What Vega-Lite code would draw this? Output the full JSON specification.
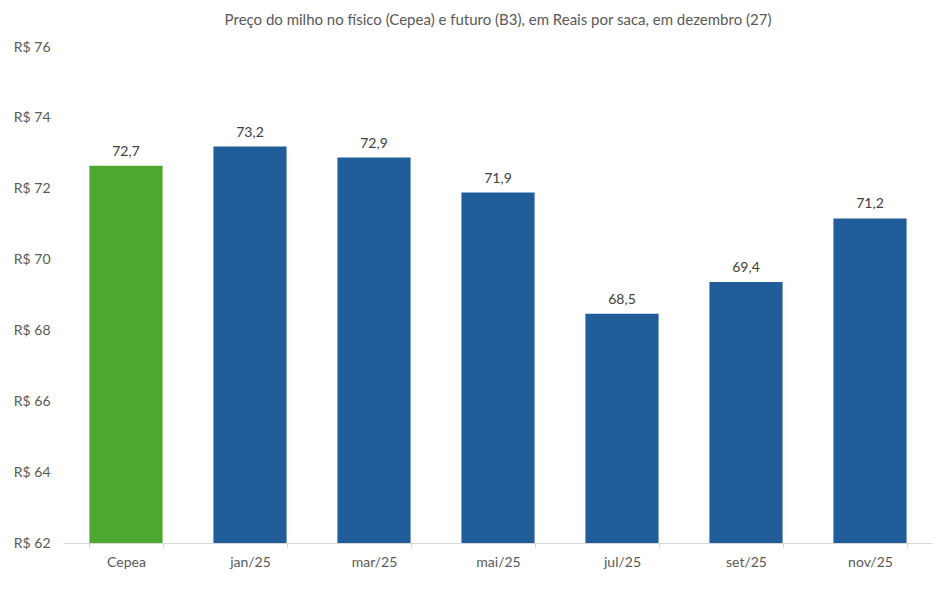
{
  "$schema": "https://vega.github.io/schema/vega-lite/v6.json",
  "width": 868,
  "height": 496,
  "autosize": {"type": "none"},
  "padding": {"left": 64, "top": 47, "right": 15, "bottom": 46},
  "background": "white",
  "config": {
    "view": {"stroke": null},
    "font": "Lato",
    "locale": {"number": {"decimal": ",", "thousands": ".", "grouping": [3], "currency": ["R$ ", ""]}}
  },
  "title": {
    "text": "Preço do milho no físico (Cepea) e futuro (B3), em Reais por saca, em dezembro (27)",
    "fontSize": 15,
    "fontWeight": "normal",
    "color": "#595959",
    "offset": 12,
    "anchor": "middle"
  },
  "data": {
    "values": [
      {"mes": "Cepea", "preco": 72.65, "tipo": "fisico"},
      {"mes": "jan/25", "preco": 73.19, "tipo": "futuro"},
      {"mes": "mar/25", "preco": 72.88, "tipo": "futuro"},
      {"mes": "mai/25", "preco": 71.89, "tipo": "futuro"},
      {"mes": "jul/25", "preco": 68.47, "tipo": "futuro"},
      {"mes": "set/25", "preco": 69.37, "tipo": "futuro"},
      {"mes": "nov/25", "preco": 71.16, "tipo": "futuro"}
    ]
  },
  "encoding": {
    "x": {
      "field": "mes", "type": "nominal", "sort": null,
      "scale": {"paddingInner": 0.41, "paddingOuter": 0.205},
      "axis": {
        "title": null, "labelAngle": 0, "labelFontSize": 14, "labelColor": "#595959",
        "domainColor": "#d9d9d9", "tickColor": "#d9d9d9", "tickBand": "extent", "tickSize": 5,
        "labelPadding": 7
      }
    },
    "y": {
      "field": "preco", "type": "quantitative",
      "scale": {"domain": [62, 76], "zero": false, "nice": false},
      "axis": {
        "title": null, "format": "$.0f", "values": [62, 64, 66, 68, 70, 72, 74, 76],
        "grid": false, "domain": false, "ticks": false, "labelFontSize": 14,
        "labelColor": "#595959", "labelPadding": 14
      }
    }
  },
  "layer": [
    {
      "mark": {"type": "bar", "clip": true},
      "encoding": {
        "color": {
          "field": "tipo", "type": "nominal",
          "scale": {"domain": ["fisico", "futuro"], "range": ["#4EA72E", "#215E99"]},
          "legend": null
        }
      }
    },
    {
      "mark": {"type": "text", "dy": -14, "fontSize": 14, "color": "#404040"},
      "encoding": {"text": {"field": "preco", "type": "quantitative", "format": ".1f"}}
    }
  ]
}
